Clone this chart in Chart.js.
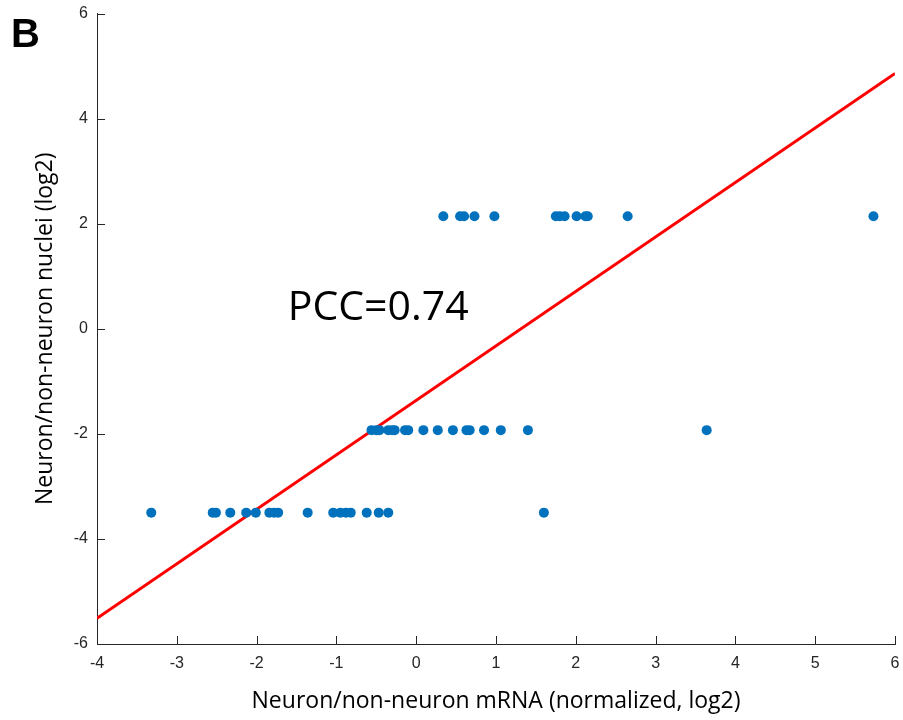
<!DOCTYPE html>
<html>
<head>
<meta charset="utf-8">
<script src="https://cdn.jsdelivr.net/npm/chart.js@4.4.1/dist/chart.umd.min.js"></script>
<style>
  html, body { margin: 0; padding: 0; background: #fff; }
  #wrap { width: 903px; height: 720px; }
</style>
</head>
<body>
<div id="wrap"><canvas id="chart"></canvas></div>
<script>
// rows of points (y level -> x values)
const rowHighY = 2.14;
const rowHighX = [0.34, 0.55, 0.60, 0.73, 0.98, 1.75, 1.80, 1.86, 2.01, 2.12, 2.15, 2.65, 5.73];
const rowMidY = -1.93;
const rowMidX = [-0.56, -0.50, -0.46, -0.35, -0.30, -0.27, -0.14, -0.10, 0.09, 0.27, 0.46, 0.63, 0.67, 0.85, 1.06, 1.40, 3.64];
const rowLowY = -3.50;
const rowLowX = [-3.32, -2.55, -2.51, -2.33, -2.13, -2.01, -1.84, -1.78, -1.73, -1.36, -1.04, -0.95, -0.88, -0.82, -0.62, -0.47, -0.35, 1.60];

// fitted line end points
const fitX = [-4, 6];
const fitY = [-5.51, 4.86];

const xTicks = [-4, -3, -2, -1, 0, 1, 2, 3, 4, 5, 6];
const yTicks = [-6, -4, -2, 0, 2, 4, 6];

const pccLabel = 'PCC=0.74';
const pccPos = [-1.61, 0.17];

let points = [];
rowHighX.forEach(x => points.push({x: x, y: rowHighY}));
rowMidX.forEach(x => points.push({x: x, y: rowMidY}));
rowLowX.forEach(x => points.push({x: x, y: rowLowY}));

const axisColor = '#262626';

// ticks drawn inward, matlab style
const inwardTicks = {
  id: 'inwardTicks',
  afterDraw(chart) {
    const ctx = chart.ctx;
    const xs = chart.scales.x, ys = chart.scales.y;
    const a = chart.chartArea;
    ctx.save();
    ctx.strokeStyle = axisColor;
    ctx.lineWidth = 1;
    ctx.beginPath();
    xTicks.forEach(v => {
      const px = Math.round(xs.getPixelForValue(v)) + 0.5;
      ctx.moveTo(px, a.bottom);
      ctx.lineTo(px, a.bottom - 8);
    });
    yTicks.forEach(v => {
      const py = Math.round(ys.getPixelForValue(v)) + 0.5;
      ctx.moveTo(a.left, py);
      ctx.lineTo(a.left + 8, py);
    });
    ctx.stroke();

    ctx.fillStyle = '#000';
    ctx.font = '41px "Open Sans"';
    ctx.textBaseline = 'alphabetic';
    ctx.textAlign = 'left';
    ctx.fillText(pccLabel, xs.getPixelForValue(pccPos[0]), ys.getPixelForValue(pccPos[1]));

    ctx.font = 'bold 40px "Liberation Sans"';
    ctx.fillText('B', 11, 47);
    ctx.restore();
  }
};

const ctx = document.getElementById('chart').getContext('2d');

const chart = new Chart(ctx, {
  type: 'scatter',
  data: {
    datasets: [
      {
        data: points,
        backgroundColor: '#0072BD',
        borderColor: '#0072BD',
        pointRadius: 5,
        pointHoverRadius: 5,
        borderWidth: 0
      },
      {
        type: 'line',
        data: fitX.map((x, i) => ({x: x, y: fitY[i]})),
        borderColor: '#FF0000',
        borderWidth: 3,
        pointRadius: 0,
        fill: false
      }
    ]
  },
  options: {
    responsive: true,
    maintainAspectRatio: false,
    animation: false,
    layout: {
      padding: {top: 13.5, right: 8, left: 0, bottom: 0}
    },
    plugins: {
      legend: {display: false},
      tooltip: {enabled: false}
    },
    scales: {
      x: {
        type: 'linear',
        min: -4,
        max: 6,
        afterBuildTicks: s => { s.ticks = xTicks.map(v => ({value: v})); },
        afterFit: s => { s.height = 76; s.paddingLeft = 0; s.paddingRight = 0; },
        grid: {drawOnChartArea: false, drawTicks: false},
        border: {display: true, color: axisColor, width: 1},
        ticks: {
          color: axisColor,
          padding: 10,
          maxRotation: 0,
          font: {family: '"Liberation Sans"', size: 16}
        },
        title: {
          display: true,
          text: 'Neuron/non-neuron mRNA (normalized, log2)',
          color: '#000',
          padding: {top: 0, bottom: 5},
          font: {family: '"Open Sans"', size: 23}
        }
      },
      y: {
        type: 'linear',
        min: -6,
        max: 6,
        afterBuildTicks: s => { s.ticks = yTicks.map(v => ({value: v})); },
        afterFit: s => { s.width = 97; s.paddingTop = 0; s.paddingBottom = 0; },
        grid: {drawOnChartArea: false, drawTicks: false},
        border: {display: true, color: axisColor, width: 1},
        ticks: {
          color: axisColor,
          padding: 9,
          font: {family: '"Liberation Sans"', size: 16}
        },
        title: {
          display: true,
          text: 'Neuron/non-neuron nuclei (log2)',
          color: '#000',
          padding: {top: 32, bottom: 0},
          font: {family: '"Open Sans"', size: 23}
        }
      }
    }
  },
  plugins: [inwardTicks]
});
</script>
</body>
</html>
